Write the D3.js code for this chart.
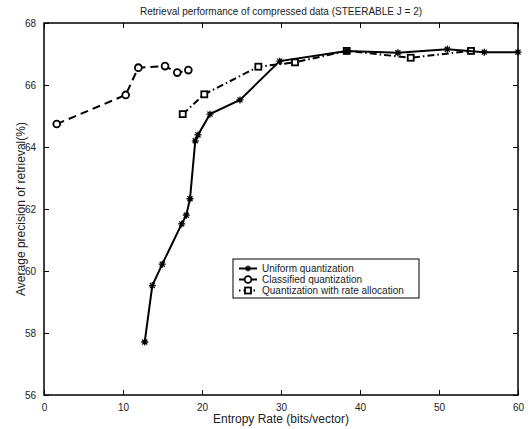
<!DOCTYPE html>
<html>
<head>
<meta charset="utf-8">
<script src="https://cdn.jsdelivr.net/npm/d3@7"></script>
<style>
  body { margin: 0; background: #fff; }
  svg { font-family: "Liberation Sans", Arial, sans-serif; }
</style>
</head>
<body>
<div id="chart"></div>
<script>
// Data
const uniformRate = [12.75, 13.71, 14.97, 17.43, 18.01, 18.48, 19.15, 19.49, 21.01, 24.81, 29.84, 38.32, 44.8, 51.05, 55.73, 60];
const uniformPrec = [57.71, 59.53, 60.22, 61.52, 61.80, 62.33, 64.20, 64.39, 65.06, 65.52, 66.77, 67.10, 67.04, 67.15, 67.06, 67.06];

const classifiedRate = [1.61, 10.34, 11.94, 15.32, 16.87, 18.27];
const classifiedPrec = [64.74, 65.68, 66.56, 66.61, 66.40, 66.48];

const allocRate = [17.56, 20.29, 27.13, 31.77, 38.32, 46.42, 54.05];
const allocPrec = [65.06, 65.70, 66.59, 66.73, 67.10, 66.88, 67.10];

const xTicks = [0, 10, 20, 30, 40, 50, 60];
const yTicks = [56, 58, 60, 62, 64, 66, 68];

const seriesNames = ["Uniform quantization", "Classified quantization", "Quantization with rate allocation"];

// Chart dimensions
const fullWidth = 532;
const fullHeight = 429;
const margin = { top: 23, right: 14, bottom: 34, left: 44 };
const width = fullWidth - margin.left - margin.right;
const height = fullHeight - margin.top - margin.bottom;

const svgContainer = d3.select("#chart")
  .append("svg")
  .attr("width", fullWidth)
  .attr("height", fullHeight);

const svg = svgContainer.append("g")
  .attr("transform", `translate(${margin.left},${margin.top})`);

const x = d3.scaleLinear().domain([0, 60]).range([0, width]);
const y = d3.scaleLinear().domain([56, 68]).range([height, 0]);

// Axes with inward ticks (on all four sides)
function styleAxis(g) {
  g.select(".domain").remove();
  g.selectAll(".tick line").attr("stroke", "#000").attr("stroke-width", 1);
  g.selectAll(".tick text").attr("fill", "#222").style("font-size", "10px");
}

svg.append("g")
  .attr("transform", `translate(0,${height})`)
  .call(d3.axisBottom(x).tickValues(xTicks).tickSizeInner(-5).tickSizeOuter(0).tickPadding(9))
  .call(styleAxis);

svg.append("g")
  .call(d3.axisTop(x).tickValues(xTicks).tickSizeInner(-5).tickSizeOuter(0).tickFormat(""))
  .call(styleAxis);

svg.append("g")
  .call(d3.axisLeft(y).tickValues(yTicks).tickSizeInner(-5).tickSizeOuter(0).tickPadding(8))
  .call(styleAxis);

svg.append("g")
  .attr("transform", `translate(${width},0)`)
  .call(d3.axisRight(y).tickValues(yTicks).tickSizeInner(-5).tickSizeOuter(0).tickFormat(""))
  .call(styleAxis);

// Box
svg.append("rect")
  .attr("width", width)
  .attr("height", height)
  .attr("fill", "none")
  .attr("stroke", "#000")
  .attr("stroke-width", 1.5);

// Title and labels
svgContainer.append("text")
  .attr("x", margin.left + width / 2)
  .attr("y", 15)
  .attr("text-anchor", "middle")
  .style("font-size", "10px")
  .attr("fill", "#222")
  .text("Retrieval performance of compressed data (STEERABLE J = 2)");

svgContainer.append("text")
  .attr("x", margin.left + width / 2)
  .attr("y", 423)
  .attr("text-anchor", "middle")
  .style("font-size", "12px")
  .attr("fill", "#222")
  .text("Entropy Rate (bits/vector)");

svgContainer.append("text")
  .attr("transform", `translate(25,${margin.top + height / 2}) rotate(-90)`)
  .attr("text-anchor", "middle")
  .style("font-size", "12px")
  .attr("fill", "#222")
  .text("Average precision of retrieval(%)");

// Marker helpers
function asterisk(g, cx, cy, r) {
  const d = r * 0.72;
  g.append("path")
    .attr("d", `M${cx - r},${cy}L${cx + r},${cy}M${cx},${cy - r}L${cx},${cy + r}` +
      `M${cx - d},${cy - d}L${cx + d},${cy + d}M${cx - d},${cy + d}L${cx + d},${cy - d}`)
    .attr("stroke", "#000")
    .attr("stroke-width", 1.3)
    .attr("fill", "none");
}
function circle(g, cx, cy) {
  g.append("circle")
    .attr("cx", cx).attr("cy", cy).attr("r", 3.4)
    .attr("fill", "#fff")
    .attr("stroke", "#000")
    .attr("stroke-width", 1.8);
}
function square(g, cx, cy) {
  g.append("rect")
    .attr("x", cx - 3).attr("y", cy - 3)
    .attr("width", 6).attr("height", 6)
    .attr("fill", "#fff")
    .attr("stroke", "#000")
    .attr("stroke-width", 1.8);
}

const line = d3.line().x(d => x(d[0])).y(d => y(d[1]));

const series = [
  { rate: allocRate, prec: allocPrec, dash: "7,3,1.5,3", marker: square },
  { rate: classifiedRate, prec: classifiedPrec, dash: "8,5", marker: circle },
  { rate: uniformRate, prec: uniformPrec, dash: null, marker: (g, cx, cy) => asterisk(g, cx, cy, 3.5) }
];

series.forEach(s => {
  const pts = s.rate.map((r, i) => [r, s.prec[i]]);
  svg.append("path")
    .datum(pts)
    .attr("d", line)
    .attr("fill", "none")
    .attr("stroke", "#000")
    .attr("stroke-width", 2)
    .attr("stroke-dasharray", s.dash);
  const mg = svg.append("g");
  pts.forEach(p => s.marker(mg, x(p[0]), y(p[1])));
});

// Legend
const legend = svgContainer.append("g").attr("transform", "translate(233,259)");
legend.append("rect")
  .attr("width", 186)
  .attr("height", 39)
  .attr("fill", "#fff")
  .attr("stroke", "#000")
  .attr("stroke-width", 1);

const legendMarkers = [(g, cx, cy) => asterisk(g, cx, cy, 3), circle, square];
const legendDash = [null, "8,5", "1.5,3,7,3"];
seriesNames.forEach((name, i) => {
  const ly = 9.5 + i * 11;
  const row = legend.append("g");
  row.append("line")
    .attr("x1", 6).attr("x2", 24)
    .attr("y1", ly).attr("y2", ly)
    .attr("stroke", "#000")
    .attr("stroke-width", 2)
    .attr("stroke-dasharray", legendDash[i]);
  legendMarkers[i](row, 15, ly);
  row.append("text")
    .attr("x", 29)
    .attr("y", ly + 3.5)
    .style("font-size", "10px")
    .attr("fill", "#222")
    .text(name);
});
</script>
</body>
</html>
